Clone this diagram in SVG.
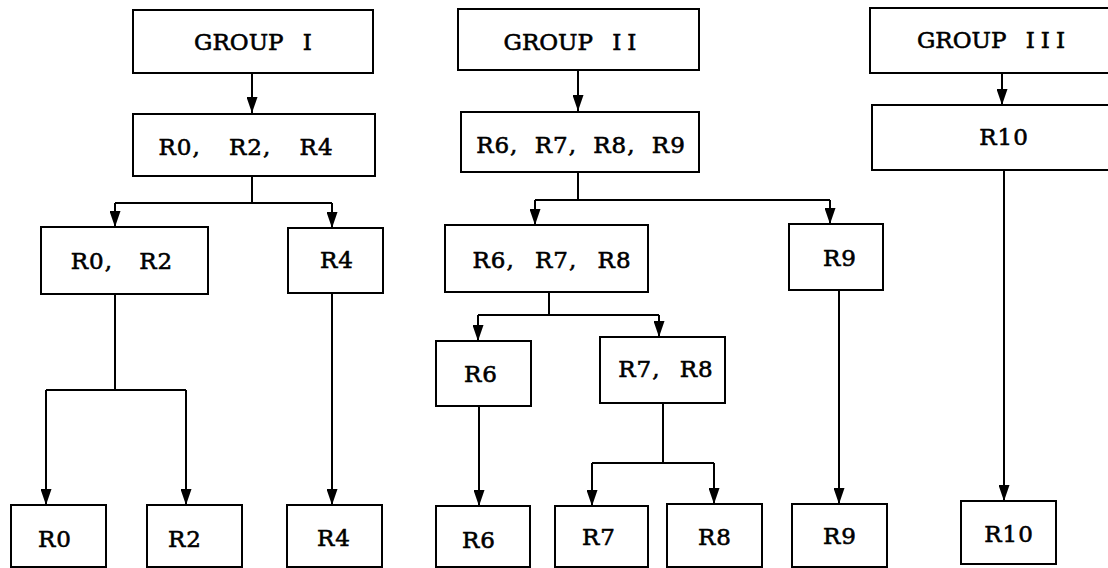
<svg xmlns="http://www.w3.org/2000/svg" width="1108" height="568" viewBox="0 0 1108 568">
<style>
.box{fill:#fff;stroke:#000;stroke-width:2}
.t{font-family:"DejaVu Serif","Liberation Serif",serif;font-size:23px;fill:#000;stroke:#000;stroke-width:0.6;text-anchor:middle;letter-spacing:1px;word-spacing:20px}
.g{letter-spacing:0;word-spacing:12px}
.ws8{word-spacing:8px}
.ws11{word-spacing:11px}
.ws12{word-spacing:12px}
.ws18{word-spacing:18px}
.ls6{letter-spacing:6px}
.c{fill:none;stroke:#000;stroke-width:2}
.a{marker-end:url(#ah)}
</style>
<defs>
<marker id="ah" markerUnits="userSpaceOnUse" viewBox="0 0 16 11" markerWidth="16" markerHeight="11" refX="16" refY="5.5" orient="auto">
<path d="M0,0 L16,5.5 L0,11 z" fill="#000"/>
</marker>
</defs>
<rect width="1108" height="568" fill="#fff"/>
<g id="connectors">
<path class="c a" d="M252,73 V113"/>
<path class="c" d="M252,176 V203 M115,203 H332"/>
<path class="c a" d="M115,203 V227"/>
<path class="c a" d="M332,203 V228"/>
<path class="c" d="M115,294 V390 M46,390 H186"/>
<path class="c a" d="M46,390 V505"/>
<path class="c a" d="M186,390 V505"/>
<path class="c a" d="M332,293 V505"/>
<path class="c a" d="M578,70 V111"/>
<path class="c" d="M578,172 V200 M535,200 H830"/>
<path class="c a" d="M535,200 V225"/>
<path class="c a" d="M830,200 V224"/>
<path class="c" d="M549,292 V315 M478,315 H659"/>
<path class="c a" d="M478,315 V341"/>
<path class="c a" d="M659,315 V337"/>
<path class="c a" d="M479,406 V506"/>
<path class="c" d="M663,403 V463 M592,463 H714"/>
<path class="c a" d="M592,463 V506"/>
<path class="c a" d="M714,463 V504"/>
<path class="c a" d="M839,290 V504"/>
<path class="c a" d="M1002,73 V105"/>
<path class="c a" d="M1004,170 V501"/>
</g>
<g id="group1"><rect class="box" x="133" y="10" width="240" height="63"/><text class="t g" x="253" y="50">GROUP I</text></g>
<g id="r0r2r4"><rect class="box" x="133" y="114" width="242" height="62"/><text class="t" x="246" y="155">R0, R2, R4</text></g>
<g id="r0r2"><rect class="box" x="41" y="227" width="167" height="67"/><text class="t ws18" x="122" y="269">R0, R2</text></g>
<g id="r4a"><rect class="box" x="288" y="228" width="95" height="65"/><text class="t" x="337" y="268">R4</text></g>
<g id="r0"><rect class="box" x="11" y="505" width="95" height="62"/><text class="t" x="55" y="547">R0</text></g>
<g id="r2"><rect class="box" x="147" y="505" width="95" height="62"/><text class="t" x="185" y="547">R2</text></g>
<g id="r4b"><rect class="box" x="287" y="505" width="95" height="62"/><text class="t" x="334" y="546">R4</text></g>
<g id="group2"><rect class="box" x="458" y="9" width="241" height="61"/><text class="t g" x="573" y="50">GROUP <tspan class="ls6">II</tspan></text></g>
<g id="r6r7r8r9"><rect class="box" x="461" y="112" width="238" height="60"/><text class="t ws8" x="581" y="153">R6, R7, R8, R9</text></g>
<g id="r6r7r8"><rect class="box" x="445" y="225" width="203" height="67"/><text class="t ws12" x="552" y="268">R6, R7, R8</text></g>
<g id="r9a"><rect class="box" x="789" y="224" width="94" height="66"/><text class="t" x="840" y="266">R9</text></g>
<g id="r6a"><rect class="box" x="436" y="341" width="95" height="65"/><text class="t" x="481" y="382">R6</text></g>
<g id="r7r8"><rect class="box" x="600" y="337" width="125" height="66" stroke-width="3"/><text class="t ws11" x="666" y="377">R7, R8</text></g>
<g id="r6b"><rect class="box" x="436" y="506" width="94" height="61"/><text class="t" x="479" y="548">R6</text></g>
<g id="r7"><rect class="box" x="555" y="506" width="93" height="61"/><text class="t" x="599" y="545">R7</text></g>
<g id="r8"><rect class="box" x="667" y="504" width="95" height="63"/><text class="t" x="715" y="545">R8</text></g>
<g id="r9b"><rect class="box" x="792" y="504" width="95" height="63"/><text class="t" x="840" y="544">R9</text></g>
<g id="group3"><rect class="box" x="870" y="8" width="245" height="65"/><text class="t g" x="994" y="48">GROUP <tspan class="ls6">III</tspan></text></g>
<g id="r10a"><rect class="box" x="872" y="105" width="243" height="65"/><text class="t" x="1004" y="145">R10</text></g>
<g id="r10b"><rect class="box" x="961" y="501" width="95" height="63"/><text class="t" x="1009" y="542">R10</text></g>
</svg>
